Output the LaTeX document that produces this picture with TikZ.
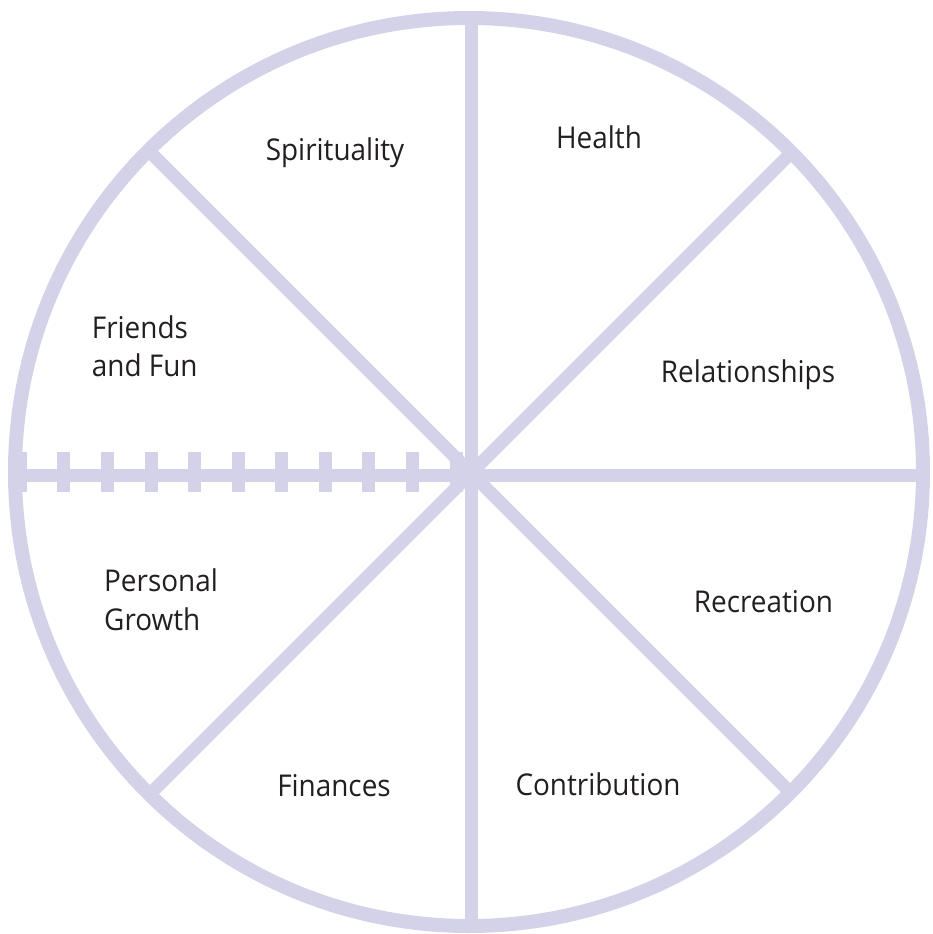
\documentclass[tikz,border=0pt]{standalone}
\usepackage{fontspec}
\setmainfont{Open Sans}[FakeStretch=0.93]
\definecolor{wheel}{RGB}{212,210,232}
\definecolor{ink}{RGB}{35,31,32}
\begin{document}
\begin{tikzpicture}[x=1pt,y=-1pt,
  rim/.style={draw=wheel,line width=14pt},
  spoke/.style={draw=wheel,line width=13pt},
  tickmark/.style={fill=wheel},
  lbl/.style={font=\fontsize{30}{38.4}\selectfont,text=ink,inner sep=0pt},
  lblc/.style={lbl,anchor=base},
  lbll/.style={lbl,anchor=base west,align=left}]
\useasboundingbox (0,0) rectangle (932,934);
\coordinate (c) at (471,474);
\coordinate (top) at (471,14);
\coordinate (bot) at (471,932);
\coordinate (lft) at (12,475);
\coordinate (rgt) at (926,475);
\coordinate (ne) at (792,152);
\coordinate (nw) at (150,152);
\coordinate (sw) at (150,794);
\coordinate (se) at (792,794);
\draw[spoke] (top) -- (bot);
\draw[spoke] (lft) -- (rgt);
\draw[spoke] (nw) -- (se);
\draw[spoke] (ne) -- (sw);
\foreach \i in {0,...,10}
  \fill[tickmark] ({20.4+43.56*\i-6.5},452) rectangle ++(13,40);
\draw[rim] (469,472) circle (454pt);
\node[lblc] (spir) at (335,160) {Spirituality};
\node[lblc] (health) at (599,148.3) {Health};
\node[lbll] (friends) at (91.7,376.7) {Friends\\and Fun};
\node[lblc] (rel) at (748,382.3) {Relationships};
\node[lbll] (pers) at (104,630) {Personal\\Growth};
\node[lblc] (rec) at (763.5,612.3) {Recreation};
\node[lblc] (fin) at (334,796) {Finances};
\node[lblc] (contr) at (598,795) {Contribution};
\end{tikzpicture}
\end{document}
